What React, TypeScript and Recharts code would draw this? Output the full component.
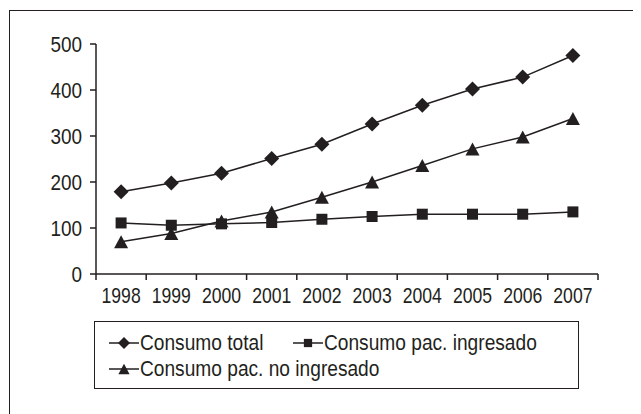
import { LineChart, Line, XAxis, YAxis } from 'recharts';

const years = ['1998', '1999', '2000', '2001', '2002', '2003', '2004', '2005', '2006', '2007'];
const consumoTotal = [179, 198, 219, 251, 282, 326, 367, 402, 428, 475];
const consumoIngresado = [111, 106, 109, 112, 119, 125, 130, 130, 130, 135];
const consumoNoIngresado = [70, 88, 115, 135, 167, 200, 236, 272, 298, 338];
const yTicks = [0, 100, 200, 300, 400, 500];

type Shape = 'diamond' | 'square' | 'triangle';

const series: { key: string; name: string; shape: Shape; values: number[] }[] = [
  { key: 'total', name: 'Consumo total', shape: 'diamond', values: consumoTotal },
  { key: 'ingresado', name: 'Consumo pac. ingresado', shape: 'square', values: consumoIngresado },
  { key: 'noIngresado', name: 'Consumo pac. no ingresado', shape: 'triangle', values: consumoNoIngresado },
];

const data = years.map((year, i) => {
  const row: Record<string, string | number> = { year };
  series.forEach((s) => (row[s.key] = s.values[i]));
  return row;
});

const INK = '#231f20';
// no condensed face installed, so text gets squeezed horizontally
const FONT = '"Liberation Sans", Arial, sans-serif';
const X_LABEL_GAP = 13;

function markerPath(shape: Shape, cx: number, cy: number, scale = 1) {
  if (shape === 'diamond') {
    const r = 7.5 * scale;
    return `M${cx},${cy - r}L${cx + r},${cy}L${cx},${cy + r}L${cx - r},${cy}Z`;
  }
  if (shape === 'square') {
    const h = 5.5 * scale;
    return `M${cx - h},${cy - h}h${2 * h}v${2 * h}h${-2 * h}Z`;
  }
  const w = 7 * scale;
  const h = 6.5 * scale;
  return `M${cx},${cy - h}L${cx + w},${cy + h}L${cx - w},${cy + h}Z`;
}

const makeDot = (shape: Shape) => (props: any) => {
  const { cx, cy, index } = props;
  if (cx == null || cy == null) return <g key={index} />;
  return <path key={index} d={markerPath(shape, cx, cy)} fill={INK} stroke="none" />;
};

const YTick = (props: any) => {
  const { x, y, payload } = props;
  return (
    <text
      transform={`translate(${x},${y}) scale(0.86,1)`}
      textAnchor="end"
      dy="0.355em"
      fill={INK}
      fontSize={22}
      fontFamily={FONT}
    >
      {payload.value}
    </text>
  );
};

// category label in the middle, tick marks on the band edges
const XTick = (props: any) => {
  const { x, y, payload, index, visibleTicksCount, width } = props;
  const half = payload.offset ?? width / visibleTicksCount / 2;
  const axisY = y - X_LABEL_GAP;
  const last = index === visibleTicksCount - 1;
  return (
    <g>
      <line x1={x - half} x2={x - half} y1={axisY} y2={axisY + 6} stroke={INK} strokeWidth={1.5} />
      {last && <line x1={x + half} x2={x + half} y1={axisY} y2={axisY + 6} stroke={INK} strokeWidth={1.5} />}
      <text
        transform={`translate(${x},${y}) scale(0.8,1)`}
        textAnchor="middle"
        dy="0.71em"
        fill={INK}
        fontSize={22}
        fontFamily={FONT}
      >
        {payload.value}
      </text>
    </g>
  );
};

function LegendBox() {
  const cols = [14, 198];
  const rows = [21, 47];
  return (
    <div
      style={{
        position: 'absolute',
        left: 86,
        top: 313,
        width: 485,
        height: 68,
        boxSizing: 'border-box',
        border: `1.5px solid ${INK}`,
        background: '#fff',
      }}
    >
      {series.map((s, i) => (
        <div
          key={s.key}
          style={{
            position: 'absolute',
            left: cols[i === 1 ? 1 : 0],
            top: rows[i < 2 ? 0 : 1] - 13,
            height: 26,
            display: 'flex',
            alignItems: 'center',
            whiteSpace: 'nowrap',
            fontFamily: FONT,
            fontSize: 22,
            color: INK,
          }}
        >
          <svg width={30} height={16} style={{ marginRight: 1, flex: 'none' }}>
            <line x1={0} y1={8} x2={30} y2={8} stroke={INK} strokeWidth={1.5} />
            <path d={markerPath(s.shape, 15, 8, s.shape === 'square' ? 0.75 : 0.8)} fill={INK} />
          </svg>
          <span style={{ display: 'inline-block', transform: 'scaleX(0.87)', transformOrigin: 'left center' }}>
            {s.name}
          </span>
        </div>
      ))}
    </div>
  );
}

export default function App() {
  return (
    <div style={{ position: 'relative', width: 633, height: 406, overflow: 'hidden', background: '#fff' }}>
      <div
        style={{
          position: 'absolute',
          left: 1,
          top: 2,
          width: 700,
          height: 600,
          border: `1.5px solid ${INK}`,
        }}
      />
      <LineChart
        width={633}
        height={406}
        data={data}
        margin={{ top: 36, right: 43, left: 0, bottom: 100 }}
        style={{ position: 'absolute', left: 0, top: 0 }}
      >
        <XAxis
          xAxisId="top"
          dataKey="year"
          orientation="top"
          scale="band"
          height={0}
          tick={false}
          tickLine={false}
          axisLine={{ stroke: INK, strokeWidth: 1.5 }}
        />
        <XAxis
          xAxisId="cat"
          dataKey="year"
          scale="band"
          height={40}
          tickLine={false}
          tickSize={0}
          tickMargin={X_LABEL_GAP}
          interval={0}
          axisLine={{ stroke: INK, strokeWidth: 1.5 }}
          tick={<XTick />}
        />
        <YAxis
          yAxisId="left"
          width={88}
          domain={[0, 500]}
          ticks={yTicks}
          interval={0}
          tickSize={6}
          tickMargin={8}
          axisLine={{ stroke: INK, strokeWidth: 1.5 }}
          tickLine={{ stroke: INK, strokeWidth: 1.5 }}
          tick={<YTick />}
        />
        <YAxis
          yAxisId="right"
          orientation="right"
          width={0}
          domain={[0, 500]}
          tick={false}
          tickLine={false}
          axisLine={{ stroke: INK, strokeWidth: 1.5 }}
        />
        {series.map((s) => (
          <Line
            key={s.key}
            xAxisId="cat"
            yAxisId="left"
            dataKey={s.key}
            name={s.name}
            stroke={INK}
            strokeWidth={1.5}
            dot={makeDot(s.shape)}
            activeDot={false}
            isAnimationActive={false}
          />
        ))}
      </LineChart>
      <LegendBox />
    </div>
  );
}
